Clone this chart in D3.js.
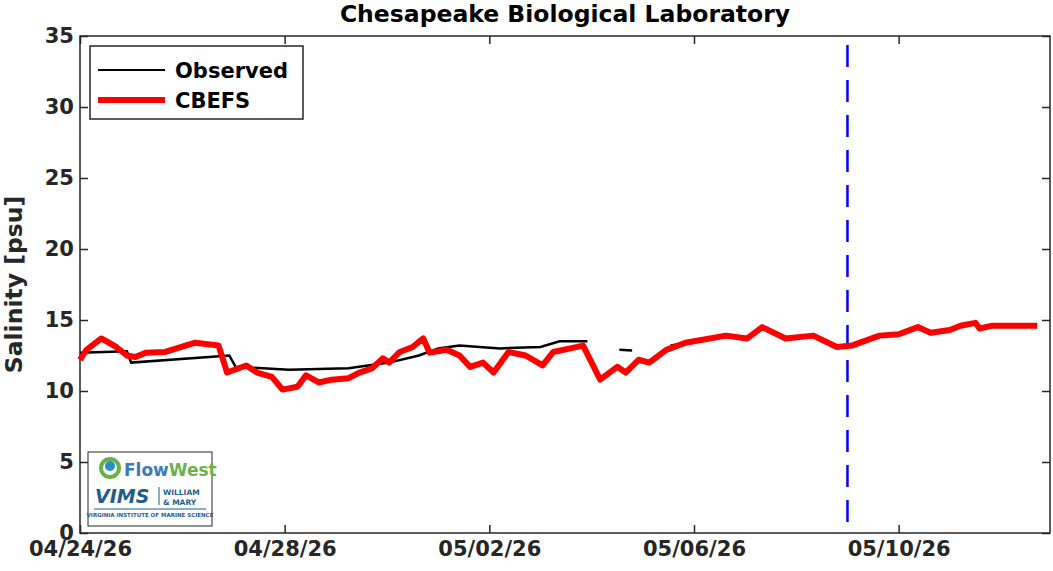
<!DOCTYPE html>
<html>
<head>
<script src="https://cdn.jsdelivr.net/npm/d3@7"></script>
<style>
  body { margin: 0; background: #fff; }
  text { font-family: "DejaVu Sans", sans-serif; font-weight: bold; }
</style>
</head>
<body>
<div id="vis"></div>
<script>
// days since 04/24/26 00:00
const start = new Date(2026, 3, 24);
const tickLabels = ["04/24/26", "04/28/26", "05/02/26", "05/06/26", "05/10/26"];
const tickDays = [0, 4, 8, 12, 16];
const yTicks = [0, 5, 10, 15, 20, 25, 30, 35];
const forecastDay = 15;

const obsDays = [0, 0.94, 1.02, 2.93, 3.07, 4.11, 5.28, 6.06, 6.65, 7.04, 7.43, 8.22, 9.0, 9.39, 9.92, null, 10.56, 10.8, null, 11.58, 11.93];
const obsVals = [12.7, 12.8, 12.0, 12.5, 11.7, 11.5, 11.6, 12.0, 12.5, 13.0, 13.2, 13.0, 13.1, 13.5, 13.5, null, 12.9, 12.85, null, 13.2, 13.4];

const modDays = [0, .14, .45, .72, .92, 1.12, 1.31, 1.70, 2.29, 2.74, 2.88, 3.27, 3.46, 3.78, 3.97, 4.25, 4.44, 4.69, 4.95, 5.28, 5.48, 5.73, 5.93, 6.06, 6.26, 6.51, 6.71, 6.85, 7.18, 7.43, 7.63, 7.88, 8.12, 8.41, 8.74, 9.06, 9.25, 9.59, 9.84, 10.17, 10.50, 10.70, 10.95, 11.15, 11.48, 11.87, 12.66, 13.05, 13.34, 13.83, 14.34, 14.81, 15.12, 15.65, 16.04, 16.39, 16.63, 17.02, 17.21, 17.51, 17.61, 17.86, 18.74];
const modVals = [12.2, 12.9, 13.7, 13.1, 12.5, 12.4, 12.7, 12.75, 13.4, 13.2, 11.3, 11.8, 11.3, 11.0, 10.1, 10.3, 11.1, 10.6, 10.8, 10.9, 11.3, 11.6, 12.3, 12.0, 12.75, 13.1, 13.7, 12.7, 12.9, 12.5, 11.7, 12.0, 11.3, 12.75, 12.5, 11.8, 12.75, 13.0, 13.2, 10.8, 11.7, 11.3, 12.2, 12.0, 12.9, 13.4, 13.9, 13.7, 14.5, 13.7, 13.9, 13.1, 13.2, 13.9, 14.0, 14.5, 14.1, 14.3, 14.6, 14.8, 14.4, 14.6, 14.6];

const W = 1053, H = 571;
const m = {left: 80, right: 3, top: 36, bottom: 38};
const svg = d3.select("#vis").append("svg").attr("width", W).attr("height", H);

const day = d => d3.timeHour.offset(start, d * 24);
const x = d3.scaleTime().domain([start, day(18.98)]).range([m.left, W - m.right]);
const y = d3.scaleLinear().domain([0, 35]).range([H - m.bottom, m.top]);

svg.append("rect").attr("x", m.left).attr("y", m.top)
  .attr("width", W - m.right - m.left).attr("height", H - m.bottom - m.top)
  .attr("fill", "none").attr("stroke", "#262626").attr("stroke-width", 1.5);

const xAxis = svg.append("g").attr("transform", `translate(0,${H - m.bottom})`)
  .call(d3.axisBottom(x).tickValues(tickDays.map(day)).tickFormat((d, i) => tickLabels[i]).tickSizeInner(-8).tickSizeOuter(0));
const yAxis = svg.append("g").attr("transform", `translate(${m.left},0)`)
  .call(d3.axisLeft(y).tickValues(yTicks).tickSizeInner(-8).tickSizeOuter(0));
svg.append("g").attr("transform", `translate(${W - m.right},0)`)
  .call(d3.axisRight(y).tickValues(yTicks).tickSizeInner(-8).tickSizeOuter(0).tickFormat(""));
svg.append("g").attr("transform", `translate(0,${m.top})`)
  .call(d3.axisTop(x).tickValues(tickDays.map(day)).tickSizeInner(-8).tickSizeOuter(0).tickFormat(""));
svg.selectAll(".domain").remove();
svg.selectAll(".tick line").attr("stroke", "#262626").attr("stroke-width", 1.5);
xAxis.selectAll("text").attr("font-size", 21).attr("fill", "#262626").attr("dy", "0.95em");
yAxis.selectAll("text").attr("font-size", 21).attr("fill", "#262626").attr("dx", "-0.15em");

svg.append("text").attr("x", (m.left + W - m.right) / 2).attr("y", 22).attr("text-anchor", "middle")
  .attr("font-size", 23.5).text("Chesapeake Biological Laboratory");
svg.append("text").attr("transform", `translate(22,${(m.top + H - m.bottom) / 2}) rotate(-90)`)
  .attr("text-anchor", "middle").attr("font-size", 23.5).attr("fill", "#262626").text("Salinity [psu]");

svg.append("line").attr("x1", x(day(forecastDay))).attr("x2", x(day(forecastDay)))
  .attr("y1", y(35) + 9).attr("y2", y(0)).attr("stroke", "#0000ff").attr("stroke-width", 2.5)
  .attr("stroke-dasharray", "22,13");

const obs = obsDays.map((d, i) => ({d, v: obsVals[i]}));
const mod = modDays.map((d, i) => ({d, v: modVals[i]}));
const line = d3.line().defined(p => p.d !== null).x(p => x(day(p.d))).y(p => y(p.v)).curve(d3.curveLinear);

svg.append("path").datum(obs).attr("d", line).attr("fill", "none").attr("stroke", "#000").attr("stroke-width", 2.5);
svg.append("path").datum(mod).attr("d", line).attr("fill", "none").attr("stroke", "#ff0000").attr("stroke-width", 6).attr("stroke-linejoin", "round");

// legend
const lg = svg.append("g").attr("transform", "translate(90,46)");
lg.append("rect").attr("width", 213).attr("height", 73).attr("fill", "#fff").attr("stroke", "#262626").attr("stroke-width", 1.5);
lg.append("line").attr("x1", 8).attr("x2", 75).attr("y1", 24).attr("y2", 24).attr("stroke", "#000").attr("stroke-width", 2);
lg.append("line").attr("x1", 8).attr("x2", 75).attr("y1", 54).attr("y2", 54).attr("stroke", "#ff0000").attr("stroke-width", 6);
lg.append("text").attr("x", 85).attr("y", 32).attr("font-size", 21).text("Observed");
lg.append("text").attr("x", 85).attr("y", 62).attr("font-size", 21).text("CBEFS");

// logo box
const lo = svg.append("g").attr("transform", "translate(88,452)");
lo.append("rect").attr("width", 124).attr("height", 74).attr("fill", "#fff").attr("stroke", "#262626").attr("stroke-width", 1);
lo.append("circle").attr("cx", 22).attr("cy", 16).attr("r", 9).attr("fill", "none").attr("stroke", "#6ab04c").attr("stroke-width", 4);
lo.append("circle").attr("cx", 22).attr("cy", 14).attr("r", 5).attr("fill", "#2a8fc9");
lo.append("text").attr("x", 36).attr("y", 24).attr("font-size", 17).attr("font-weight", "normal").attr("fill", "#3d7ab5").text("Flow")
  .append("tspan").attr("fill", "#6ab04c").text("West");
lo.append("text").attr("x", 7).attr("y", 51).attr("font-size", 19).attr("font-style", "italic").attr("fill", "#1f5d8c").text("VIMS");
lo.append("line").attr("x1", 71).attr("x2", 71).attr("y1", 35).attr("y2", 53).attr("stroke", "#1f5d8c");
lo.append("text").attr("x", 75).attr("y", 43).attr("font-size", 7.5).attr("font-weight", "normal").attr("font-family", "Liberation Serif").attr("fill", "#1f5d8c").text("WILLIAM");
lo.append("text").attr("x", 75).attr("y", 53).attr("font-size", 7.5).attr("font-weight", "normal").attr("font-family", "Liberation Serif").attr("fill", "#1f5d8c").text("& MARY");
lo.append("line").attr("x1", 6).attr("x2", 118).attr("y1", 57).attr("y2", 57).attr("stroke", "#1f5d8c");
lo.append("text").attr("x", 62).attr("y", 65).attr("text-anchor", "middle").attr("font-size", 5.5).attr("font-weight", "normal").attr("font-family", "Liberation Serif").attr("fill", "#1f5d8c").text("VIRGINIA INSTITUTE OF MARINE SCIENCE");
</script>
</body>
</html>
